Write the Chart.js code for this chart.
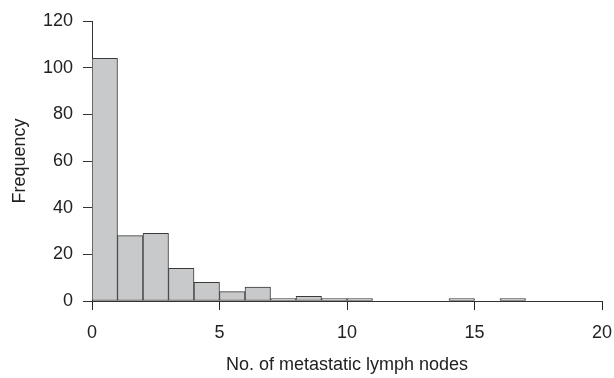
<!DOCTYPE html>
<html>
<head>
<meta charset="utf-8">
<script src="https://cdn.jsdelivr.net/npm/chart.js@4"></script>
<style>
  html, body { margin: 0; padding: 0; background: #fff; }
  #wrap { width: 614px; height: 378px; }
</style>
</head>
<body>
<div id="wrap"><canvas id="histChart"></canvas></div>
<script>
// histogram bins: [start, start+1)
const binStarts = [0, 1, 2, 3, 4, 5, 6, 7, 8, 9, 10, 11, 12, 13, 14, 15, 16, 17, 18, 19];
const counts = [104, 28, 29, 14, 8, 4, 6, 1, 2, 1, 1, 0, 0, 0, 1, 0, 1, 0, 0, 0];
const xTicks = [0, 5, 10, 15, 20];
const yTicks = [0, 20, 40, 60, 80, 100, 120];

const axisColor = '#333';
const textColor = '#222';

const points = binStarts
    .map((start, i) => ({ x: start + 0.5, y: counts[i] }))
    .filter(p => p.y > 0);

Chart.defaults.font.family = '"Liberation Sans", Arial, sans-serif';
Chart.defaults.font.size = 18;
Chart.defaults.color = textColor;

new Chart(document.getElementById('histChart'), {
    type: 'bar',
    data: {
        datasets: [{
            label: 'Frequency',
            data: points,
            backgroundColor: '#c8c9cb',
            borderColor: '#3a3a3a',
            borderWidth: 1,
            borderSkipped: false,
            barPercentage: 1,
            categoryPercentage: 1
        }]
    },
    options: {
        responsive: true,
        maintainAspectRatio: false,
        animation: false,
        layout: {
            padding: { left: 9, right: 12, top: 21, bottom: 2 }
        },
        scales: {
            x: {
                type: 'linear',
                min: 0,
                max: 20,
                offset: false,
                afterBuildTicks: scale => {
                    scale.ticks = xTicks.map(v => ({ value: v }));
                },
                afterFit: scale => {
                    scale.height = 75;
                    scale.paddingRight = 0;
                },
                grid: {
                    offset: false,
                    drawOnChartArea: false,
                    drawTicks: true,
                    tickLength: 9,
                    lineWidth: 1,
                    color: '#222'
                },
                border: { display: true, color: axisColor, width: 1 },
                ticks: { padding: 12, maxRotation: 0 },
                title: {
                    display: true,
                    text: 'No. of metastatic lymph nodes',
                    padding: { top: 4, bottom: 0 }
                }
            },
            y: {
                min: 0,
                max: 120,
                afterBuildTicks: scale => {
                    scale.ticks = yTicks.map(v => ({ value: v }));
                },
                afterFit: scale => { scale.width = 83; },
                grid: {
                    drawOnChartArea: false,
                    drawTicks: true,
                    tickLength: 9,
                    color: axisColor
                },
                border: { display: true, color: axisColor, width: 1 },
                ticks: { padding: 10 },
                title: {
                    display: true,
                    text: 'Frequency',
                    padding: { top: 0, bottom: 4 }
                }
            }
        },
        plugins: {
            legend: { display: false },
            tooltip: { enabled: false }
        }
    }
});
</script>
</body>
</html>
